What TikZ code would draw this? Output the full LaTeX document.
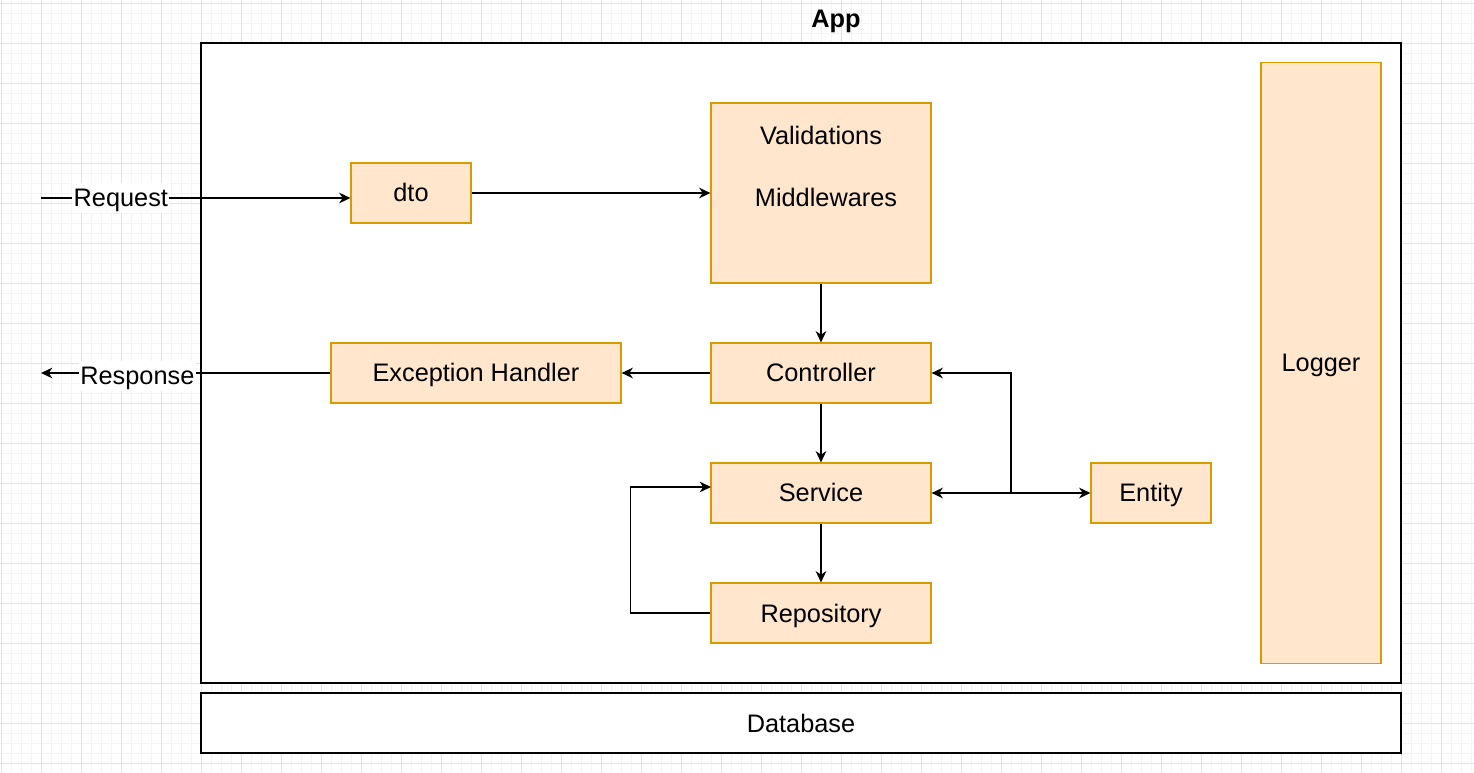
\documentclass[tikz,border=0pt]{standalone}
\usepackage{fontspec}
\setmainfont{Liberation Sans}
\usetikzlibrary{arrows.meta,calc}
\definecolor{boxfill}{HTML}{FFE6CC}
\definecolor{boxline}{HTML}{D79B00}
\definecolor{gridmajor}{HTML}{E2E2E2}
\definecolor{gridminor}{HTML}{F4F4F4}

\begin{document}
\begin{tikzpicture}[x=0.025cm, y=-0.025cm,
    font=\fontsize{18}{21}\selectfont,
    every node/.style={text height=16pt, text depth=3.2pt},
    layer/.style={draw=boxline, fill=boxfill, line width=0.8pt, minimum width=3cm, minimum height=1.5cm, inner sep=0pt},
    frame/.style={draw=black, fill=white, line width=1.1pt, minimum width=30cm, inner sep=0pt},
    flow/.style={line width=1.3pt, -{Stealth[length=8pt,width=7.5pt,inset=2.5pt]}},
    both/.style={line width=1.3pt, {Stealth[length=8pt,width=7.5pt,inset=2.5pt]}-{Stealth[length=8pt,width=7.5pt,inset=2.5pt]}},
    tag/.style={fill=white, inner sep=1pt}]
    \useasboundingbox (0,0) rectangle (1474,773);
    \fill[white] (0,0) rectangle (1474,773);

    % Grid
    \foreach \gx in {1,11,...,1471} \draw[gridminor, line width=0.7pt] (\gx,0) -- (\gx,773);
    \foreach \gy in {3,13,...,773} \draw[gridminor, line width=0.7pt] (0,\gy) -- (1474,\gy);
    \foreach \gx in {1,41,...,1441} \draw[gridmajor, line width=0.7pt] (\gx,0) -- (\gx,773);
    \foreach \gy in {3,43,...,763} \draw[gridmajor, line width=0.7pt] (0,\gy) -- (1474,\gy);

    % App and Database
    \node[frame, minimum height=16cm] (app) at (801,363) {};
    \node[font=\fontsize{18}{21}\selectfont\bfseries] (apptitle) at (836,19) {App};
    \node[frame, minimum height=1.5cm] (db) at (801,723) {Database};

    % Layers
    \node[layer] (dto) at (411,193) {dto};
    \node[layer, minimum width=5.5cm, minimum height=4.5cm] (valid) at (821,193) {};
    \node (validtext) at ($(valid.north)+(0,33)$) {Validations};
    \node (midtext) at ($(valid.north)+(5,95)$) {Middlewares};
    \node[layer, minimum width=5.5cm] (ctrl) at (821,373) {Controller};
    \node[layer, minimum width=7.25cm] (exc) at (476,373) {Exception Handler};
    \node[layer, minimum width=5.5cm] (service) at (821,493) {Service};
    \node[layer, minimum width=5.5cm] (repo) at (821,613) {Repository};
    \node[layer] (entity) at (1151,493) {Entity};
    \node[layer, minimum height=15cm] (logger) at (1321,363) {Logger};

    % Request and Response
    \coordinate (reqin) at (41,198);
    \coordinate (respout) at (41,373);
    \draw[flow] (reqin) -- (reqin -| dto.west) node[tag, pos=0.258] (reqlabel) {Request};
    \draw[flow] (exc.west) -- (respout) node[tag, pos=0.667, yshift=-2pt] (resplabel) {Response};

    % Flow
    \draw[flow] (dto) -- (valid);
    \draw[flow] (valid) -- (ctrl);
    \draw[flow] (ctrl) -- (exc);
    \draw[flow] (ctrl) -- (service);
    \draw[flow] (service) -- (repo);
    \coordinate (svcin) at (711,487);
    \draw[flow] (repo.west) -- ++(-80,0) |- (svcin);
    \draw[both] (service) -- (entity);
    \coordinate (jn) at (1011,493);
    \draw[flow] (jn) |- (ctrl.east);
\end{tikzpicture}
\end{document}
